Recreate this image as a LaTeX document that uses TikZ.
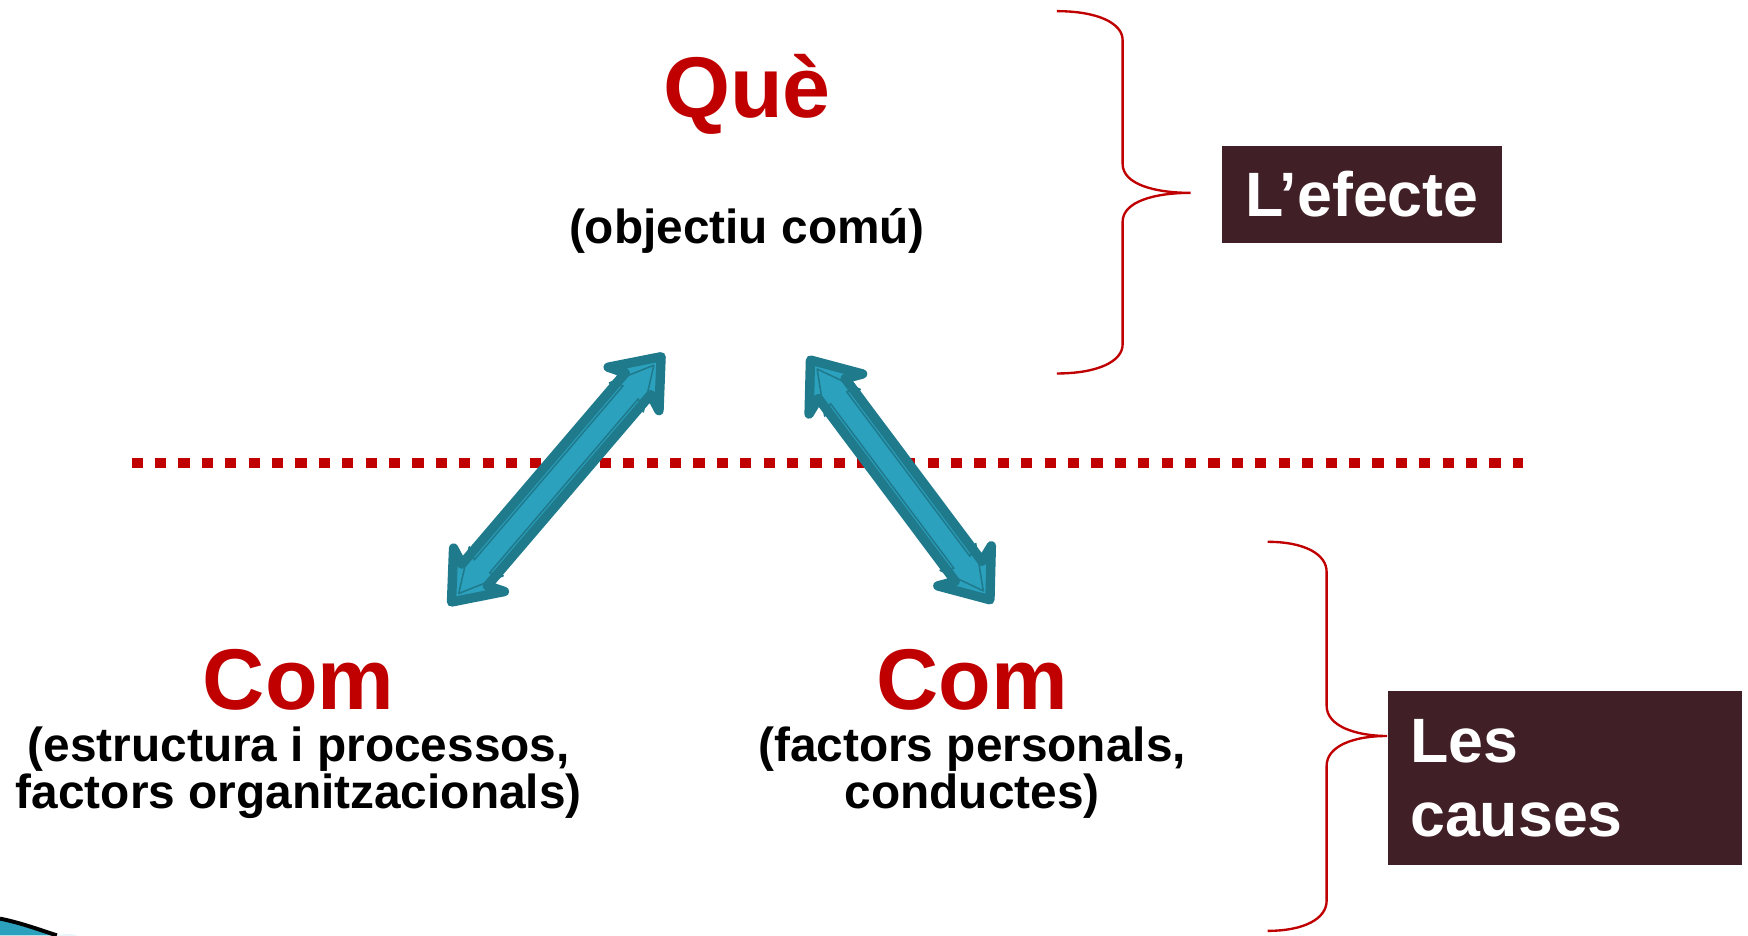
\documentclass[tikz,border=0pt]{standalone}
\usepackage{fontspec}
\setmainfont{Liberation Sans}
\usetikzlibrary{calc}

\definecolor{titlered}{HTML}{C00000}
\definecolor{boxbrown}{HTML}{401F26}
\definecolor{arrowfill}{HTML}{2CA1BE}
\definecolor{arrowline}{HTML}{1F7A8C}

% dobbel blokkpil: stil, start, slutt, halv hodebredde, halv skaftbredde
\newcommand{\dblarrow}[5]{%
  \draw[#1] (#2)
    -- ($(#2)!0.38cm!(#3)!#4!90:(#3)$)
    -- ($(#2)!0.32cm!(#3)!#5!90:(#3)$)
    -- ($(#3)!0.32cm!(#2)!#5!270:(#2)$)
    -- ($(#3)!0.38cm!(#2)!#4!270:(#2)$)
    -- (#3)
    -- ($(#3)!0.38cm!(#2)!#4!90:(#2)$)
    -- ($(#3)!0.32cm!(#2)!#5!90:(#2)$)
    -- ($(#2)!0.32cm!(#3)!#5!270:(#3)$)
    -- ($(#2)!0.38cm!(#3)!#4!270:(#3)$)
    -- cycle;}

\begin{document}
\begin{tikzpicture}[
		bigword/.style={font=\fontsize{22}{26}\selectfont\bfseries, text=titlered, inner sep=0pt},
		subword/.style={font=\fontsize{12.2}{12}\selectfont\bfseries, align=center, inner sep=0pt},
		labelbox/.style={fill=boxbrown, text=white, font=\fontsize{16}{19}\selectfont\bfseries, inner sep=0pt},
		bracket/.style={titlered, line width=0.6pt},
		arrowbody/.style={fill=arrowfill, draw=arrowline, line width=2.4pt, line join=round},
		arrowinner/.style={draw=arrowline, line width=0.4pt, line join=round}
	]
		\useasboundingbox (0,0) rectangle (15.68,8.39);

		% Skillelinje
		\draw[titlered, line width=0.09cm, dash pattern=on 0.1cm off 0.11cm] (1.18,4.24) -- (13.66,4.24);

		% Tekst
		\node[bigword, anchor=base] (que) at (6.70,7.34) {Què};
		\node[subword, anchor=base] (objectiu) at (6.70,6.21) {(objectiu comú)};
		\node[bigword, anchor=base] (comleft) at (2.68,2.03) {Com};
		\node[subword] (comlefttext) at (2.68,1.46) {(estructura i processos,\\factors organitzacionals)};
		\node[bigword, anchor=base] (comright) at (8.72,2.03) {Com};
		\node[subword] (comrighttext) at (8.72,1.46) {(factors personals,\\conductes)};

		% Bokser
		\node[labelbox, minimum width=2.51cm, minimum height=0.87cm] (efecte) at (12.215,6.645) {L’efecte};
		\node[labelbox, text width=2.78cm, inner xsep=0.2cm, minimum height=1.56cm, align=left] (causes) at (14.04,1.41) {Les\\causes};

		% Klammer
		\coordinate (efectetip) at (10.68,6.66);
		\coordinate (causestip) at ($(causes.north west)!0.26!(causes.south west)$);
		\draw[bracket] (9.48,8.29) .. controls (9.85,8.29) and (10.07,8.18) .. (10.07,8.03) -- (10.07,6.92)
			.. controls (10.07,6.74) and (10.35,6.66) .. (efectetip)
			.. controls (10.35,6.66) and (10.07,6.58) .. (10.07,6.40) -- (10.07,5.30)
			.. controls (10.07,5.15) and (9.85,5.04) .. (9.48,5.04);
		\draw[bracket] (11.37,3.53) .. controls (11.70,3.53) and (11.90,3.42) .. (11.90,3.26) -- (11.90,2.06)
			.. controls (11.90,1.88) and (12.15,1.79) .. (causestip)
			.. controls (12.15,1.79) and (11.90,1.70) .. (11.90,1.52) -- (11.90,0.31)
			.. controls (11.90,0.15) and (11.70,0.04) .. (11.37,0.04);

		% Piler
		\coordinate (comL) at (4.05,2.99);
		\coordinate (queL) at (5.93,5.19);
		\coordinate (queR) at (7.27,5.16);
		\coordinate (comR) at (8.88,3.01);
		\coordinate (comLi) at ($(comL)!0.1cm!(queL)$);
		\coordinate (queLi) at ($(queL)!0.1cm!(comL)$);
		\coordinate (queRi) at ($(queR)!0.1cm!(comR)$);
		\coordinate (comRi) at ($(comR)!0.1cm!(queR)$);
		\dblarrow{arrowbody}{comL}{queL}{0.3cm}{0.15cm}
		\dblarrow{arrowinner}{comLi}{queLi}{0.2cm}{0.09cm}
		\dblarrow{arrowbody}{queR}{comR}{0.3cm}{0.15cm}
		\dblarrow{arrowinner}{queRi}{comRi}{0.2cm}{0.09cm}

		% Hjørne
		\fill[arrowfill] (0,0) -- (0,0.15) .. controls (0.2,0.11) and (0.38,0.04) .. (0.51,0) -- cycle;
		\fill[arrowfill!30] (0.51,0) .. controls (0.58,0.01) and (0.64,0.01) .. (0.69,0) -- cycle;
		\draw[black, line width=1pt] (0,0.15) .. controls (0.2,0.11) and (0.38,0.04) .. (0.51,0);
	\end{tikzpicture}
\end{document}
